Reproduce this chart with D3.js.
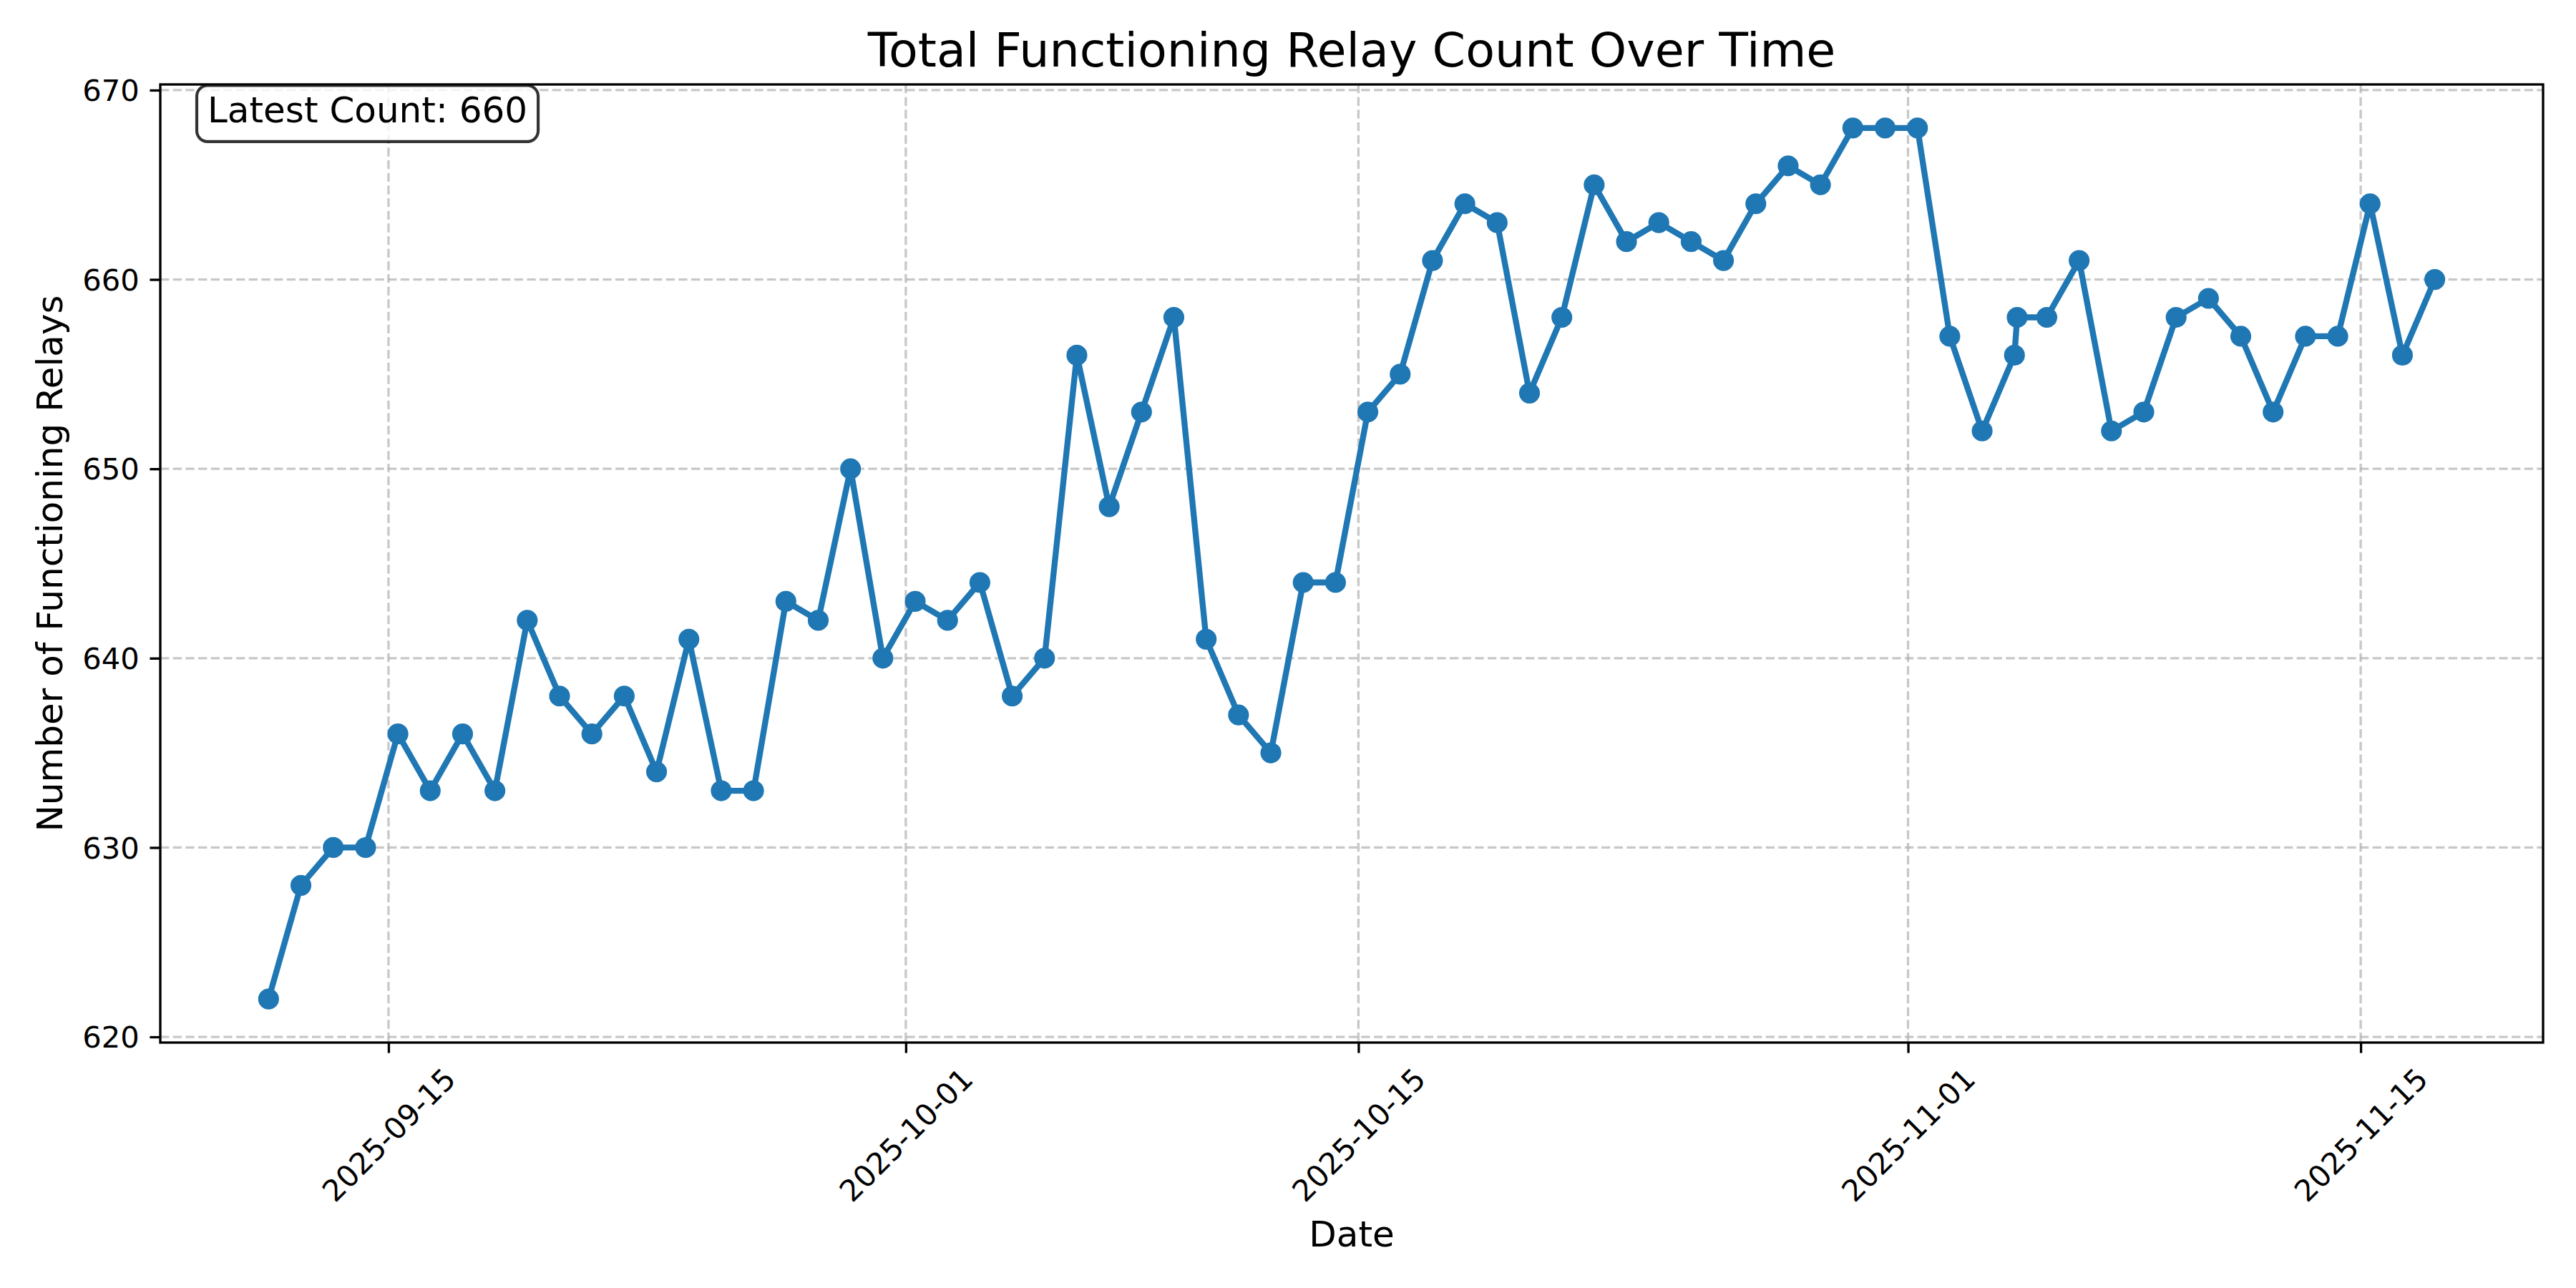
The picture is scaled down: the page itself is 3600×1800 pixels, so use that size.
<!DOCTYPE html>
<html lang="en">
    <head>
        <script src="https://d3js.org/d3.v7.min.js"></script>
        <meta charset="UTF-8">
        <title>Total Functioning Relay Count Over Time</title>
        <style>
            body {
            margin: 0;
            background-color: #ffffff;
            }
            svg {
            display: block;
            font-family: "DejaVu Sans", sans-serif;
            }
        </style>
    </head>
    <body>
        <div id="chart"></div>

        <script>
            // one reading a day (about 07:00), two on 2025-11-04
            const dates = [
                "2025-09-11 07:00", "2025-09-12 07:00", "2025-09-13 07:00", "2025-09-14 07:00",
                "2025-09-15 07:00", "2025-09-16 07:00", "2025-09-17 07:00", "2025-09-18 07:00",
                "2025-09-19 07:00", "2025-09-20 07:00", "2025-09-21 07:00", "2025-09-22 07:00",
                "2025-09-23 07:00", "2025-09-24 07:00", "2025-09-25 07:00", "2025-09-26 07:00",
                "2025-09-27 07:00", "2025-09-28 07:00", "2025-09-29 07:00", "2025-09-30 07:00",
                "2025-10-01 07:00", "2025-10-02 07:00", "2025-10-03 07:00", "2025-10-04 07:00",
                "2025-10-05 07:00", "2025-10-06 07:00", "2025-10-07 07:00", "2025-10-08 07:00",
                "2025-10-09 07:00", "2025-10-10 07:00", "2025-10-11 07:00", "2025-10-12 07:00",
                "2025-10-13 07:00", "2025-10-14 07:00", "2025-10-15 07:00", "2025-10-16 07:00",
                "2025-10-17 07:00", "2025-10-18 07:00", "2025-10-19 07:00", "2025-10-20 07:00",
                "2025-10-21 07:00", "2025-10-22 07:00", "2025-10-23 07:00", "2025-10-24 07:00",
                "2025-10-25 07:00", "2025-10-26 07:00", "2025-10-27 07:00", "2025-10-28 07:00",
                "2025-10-29 07:00", "2025-10-30 07:00", "2025-10-31 07:00", "2025-11-01 07:00",
                "2025-11-02 07:00", "2025-11-03 07:00", "2025-11-04 07:00", "2025-11-04 09:00",
                "2025-11-05 07:00", "2025-11-06 07:00", "2025-11-07 07:00", "2025-11-08 07:00",
                "2025-11-09 07:00", "2025-11-10 07:00", "2025-11-11 07:00", "2025-11-12 07:00",
                "2025-11-13 07:00", "2025-11-14 07:00", "2025-11-15 07:00", "2025-11-16 07:00",
                "2025-11-17 07:00"
            ];

            const counts = [
                622, 628, 630, 630, 636, 633, 636, 633,
                642, 638, 636, 638, 634, 641, 633, 633,
                643, 642, 650, 640, 643, 642, 644, 638,
                640, 656, 648, 653, 658, 641, 637, 635,
                644, 644, 653, 655, 661, 664, 663, 654,
                658, 665, 662, 663, 662, 661, 664, 666,
                665, 668, 668, 668, 657, 652, 656, 658,
                658, 661, 652, 653, 658, 659, 657, 653,
                657, 657, 664, 656, 660
            ];

            const xTickLabels = ["2025-09-15", "2025-10-01", "2025-10-15", "2025-11-01", "2025-11-15"];
            const yTickValues = [620, 630, 640, 650, 660, 670];

            const width = 3600;
            const height = 1800;
            const margin = { top: 118, right: 46, bottom: 343, left: 224 };
            const innerWidth = width - margin.left - margin.right;
            const innerHeight = height - margin.top - margin.bottom;

            const blue = "#1f77b4";
            const lw = 300 / 72;   // one point in pixels

            const parseTime = d3.timeParse("%Y-%m-%d %H:%M");
            const parseDay = d3.timeParse("%Y-%m-%d");
            const data = dates.map((d, i) => ({ date: parseTime(d), count: counts[i] }));
            const tickDates = xTickLabels.map(parseDay);

            // 5% margins like matplotlib autoscale
            const tExt = d3.extent(data, d => d.date);
            const tPad = (tExt[1] - tExt[0]) * 0.05;
            const yExt = d3.extent(counts);
            const yPad = (yExt[1] - yExt[0]) * 0.05;

            const xScale = d3.scaleTime()
                             .domain([new Date(+tExt[0] - tPad), new Date(+tExt[1] + tPad)])
                             .range([0, innerWidth]);

            const yScale = d3.scaleLinear()
                             .domain([yExt[0] - yPad, yExt[1] + yPad])
                             .range([innerHeight, 0]);

            const svg = d3.select("#chart")
                          .append("svg")
                          .attr("width", width)
                          .attr("height", height);

            svg.append("rect")
               .attr("width", width)
               .attr("height", height)
               .attr("fill", "#ffffff");

            const chart = svg.append("g")
                             .attr("transform", `translate(${margin.left},${margin.top})`);

            // grid
            const grid = chart.append("g")
                              .attr("stroke", "#b0b0b0")
                              .attr("stroke-opacity", 0.7)
                              .attr("stroke-width", 0.8 * lw)
                              .attr("stroke-dasharray", `${3.7 * 0.8 * lw},${1.6 * 0.8 * lw}`);

            grid.selectAll(".vgrid")
                .data(tickDates)
                .enter()
                .append("line")
                .attr("x1", d => xScale(d))
                .attr("x2", d => xScale(d))
                .attr("y1", 0)
                .attr("y2", innerHeight);

            grid.selectAll(".hgrid")
                .data(yTickValues)
                .enter()
                .append("line")
                .attr("x1", 0)
                .attr("x2", innerWidth)
                .attr("y1", d => yScale(d))
                .attr("y2", d => yScale(d));

            // series
            const line = d3.line()
                           .x(d => xScale(d.date))
                           .y(d => yScale(d.count));

            chart.append("path")
                 .datum(data)
                 .attr("d", line)
                 .attr("fill", "none")
                 .attr("stroke", blue)
                 .attr("stroke-width", 2 * lw)
                 .attr("stroke-linejoin", "round");

            chart.selectAll(".dot")
                 .data(data)
                 .enter()
                 .append("circle")
                 .attr("cx", d => xScale(d.date))
                 .attr("cy", d => yScale(d.count))
                 .attr("r", 3 * lw)
                 .attr("fill", blue)
                 .attr("stroke", blue)
                 .attr("stroke-width", lw);

            // axes
            const tickLen = 3.5 * lw;
            const fmt = d3.timeFormat("%Y-%m-%d");
            const xAxis = chart.append("g")
                               .attr("transform", `translate(0,${innerHeight})`)
                               .call(d3.axisBottom(xScale)
                                       .tickValues(tickDates)
                                       .tickFormat("")
                                       .tickSize(tickLen));

            // rotated date labels, centred under each tick
            const labelCy = 129;
            xAxis.selectAll(".tick text").remove();
            xAxis.selectAll(".tick")
                 .append("g")
                 .attr("transform", `translate(0,${labelCy}) rotate(-45)`)
                 .append("text")
                 .attr("dy", "0.35em")
                 .style("text-anchor", "middle")
                 .text(d => fmt(d));

            const yAxis = chart.append("g")
                               .call(d3.axisLeft(yScale)
                                       .tickValues(yTickValues)
                                       .tickSize(tickLen)
                                       .tickPadding(tickLen));

            [xAxis, yAxis].forEach(ax => {
                ax.attr("font-family", "DejaVu Sans, sans-serif")
                  .attr("font-size", 10 * lw);
                ax.select(".domain").remove();
                ax.selectAll("line")
                  .attr("stroke", "#000000")
                  .attr("stroke-width", 0.8 * lw);
                ax.selectAll("text").attr("fill", "#000000");
            });
            yAxis.selectAll("text").attr("dy", "0.35em");

            // spines
            chart.append("rect")
                 .attr("width", innerWidth)
                 .attr("height", innerHeight)
                 .attr("fill", "none")
                 .attr("stroke", "#000000")
                 .attr("stroke-width", 0.8 * lw);

            // titles
            svg.append("text")
               .attr("x", margin.left + innerWidth / 2)
               .attr("y", 93)
               .style("text-anchor", "middle")
               .attr("font-size", 16 * lw)
               .text("Total Functioning Relay Count Over Time");

            svg.append("text")
               .attr("x", margin.left + innerWidth / 2)
               .attr("y", 1742)
               .style("text-anchor", "middle")
               .attr("font-size", 12 * lw)
               .text("Date");

            svg.append("g")
               .attr("transform", `translate(87,${margin.top + innerHeight / 2}) rotate(-90)`)
               .append("text")
               .style("text-anchor", "middle")
               .attr("font-size", 12 * lw)
               .text("Number of Functioning Relays");

            // latest count box
            const fs = 12 * lw;
            const boxPad = 0.3 * fs;
            const note = svg.append("g");
            const noteRect = note.append("rect");
            const noteText = note.append("text")
                                 .attr("x", 290)
                                 .attr("y", 171)
                                 .attr("font-size", fs)
                                 .text(`Latest Count: ${counts[counts.length - 1]}`);
            const tw = noteText.node().getComputedTextLength();
            noteRect.attr("x", 290 - boxPad)
                    .attr("y", 171 - 0.73 * fs - boxPad)
                    .attr("width", tw + 2 * boxPad)
                    .attr("height", 0.73 * fs + 0.236 * fs + 2 * boxPad)
                    .attr("rx", boxPad)
                    .attr("ry", boxPad)
                    .attr("fill", "#ffffff")
                    .attr("fill-opacity", 0.8)
                    .attr("stroke", "#000000")
                    .attr("stroke-opacity", 0.8)
                    .attr("stroke-width", lw);
        </script>
    </body>
</html>
